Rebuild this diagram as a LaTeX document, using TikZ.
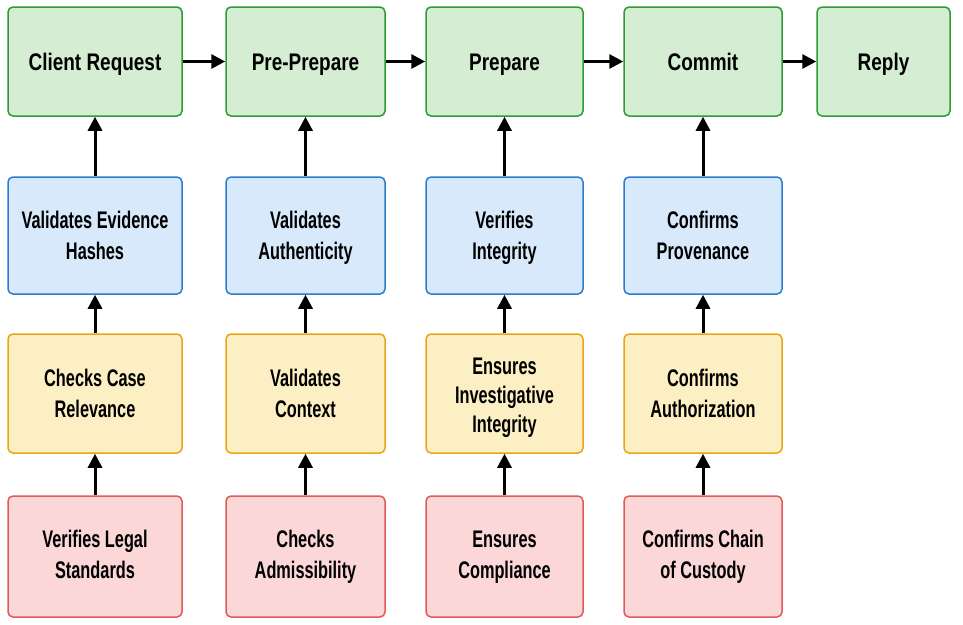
\documentclass[tikz,border=0pt]{standalone}
\usepackage{fontspec}
\setmainfont{Liberation Sans}
\newfontfamily\widefont{Liberation Sans}[FakeStretch=0.79]
\newfontfamily\narrowfont{Liberation Sans}[FakeStretch=0.68]
\usetikzlibrary{arrows.meta}
\setlength{\tabcolsep}{0pt}
\newcommand\bt[2][-2pt]{\raisebox{#1}[\height][\depth]{\begin{tabular}{c}#2\end{tabular}}}
\definecolor{gfill}{HTML}{D5EDD2}\definecolor{gdraw}{HTML}{2E9B35}
\definecolor{bfill}{HTML}{D7E9FA}\definecolor{bdraw}{HTML}{2C7DD2}
\definecolor{yfill}{HTML}{FDEFC4}\definecolor{ydraw}{HTML}{E9A418}
\definecolor{rfill}{HTML}{FBD7D7}\definecolor{rdraw}{HTML}{E05A5A}
\tikzset{
  x=1pt,y=-1pt,
  base/.style={rectangle,rounded corners=5pt,line width=1.5pt,inner sep=0pt},
  box/.style={base,font=\narrowfont\fontsize{24}{31}\selectfont\bfseries},
  gbox/.style={base,fill=gfill,draw=gdraw,font=\widefont\fontsize{24}{31}\selectfont\bfseries},
  bbox/.style={box,fill=bfill,draw=bdraw},
  ybox/.style={box,fill=yfill,draw=ydraw},
  rbox/.style={box,fill=rfill,draw=rdraw},
  conn/.style={line width=3pt,-{Triangle[length=14pt,width=14pt]}}
}
\begin{document}
\begin{tikzpicture}
\useasboundingbox (0,0) rectangle (963,624);
% row 1
\node[gbox,minimum width=174pt,minimum height=109pt] (cr) at (95,61.5) {\bt[-2.6pt]{Client Request}};
\node[gbox,minimum width=159pt,minimum height=109pt] (pp) at (305.5,61.5) {\bt[-2.6pt]{Pre-Prepare}};
\node[gbox,minimum width=157pt,minimum height=109pt] (pr) at (504.5,61.5) {\bt[-2.6pt]{Prepare}};
\node[gbox,minimum width=158pt,minimum height=109pt] (cm) at (703,61.5) {\bt[-2.6pt]{Commit}};
\node[gbox,minimum width=133pt,minimum height=109pt] (rp) at (883.5,61.5) {\bt[-2.6pt]{Reply}};
% row 2
\node[bbox,minimum width=174pt,minimum height=117pt] (b1) at (95,235.5) {\bt{Validates Evidence\\Hashes}};
\node[bbox,minimum width=159pt,minimum height=117pt] (b2) at (305.5,235.5) {\bt{Validates\\Authenticity}};
\node[bbox,minimum width=157pt,minimum height=117pt] (b3) at (504.5,235.5) {\bt{Verifies\\Integrity}};
\node[bbox,minimum width=158pt,minimum height=117pt] (b4) at (703,235.5) {\bt{Confirms\\Provenance}};
% row 3
\node[ybox,minimum width=174pt,minimum height=119pt] (y1) at (95,393.5) {\bt{Checks Case\\Relevance}};
\node[ybox,minimum width=159pt,minimum height=119pt] (y2) at (305.5,393.5) {\bt{Validates\\Context}};
\node[ybox,minimum width=157pt,minimum height=119pt,font=\narrowfont\fontsize{24}{29}\selectfont\bfseries] (y3) at (504.5,393.5) {\bt[-4.5pt]{Ensures\\Investigative\\Integrity}};
\node[ybox,minimum width=158pt,minimum height=119pt] (y4) at (703,393.5) {\bt{Confirms\\Authorization}};
% row 4
\node[rbox,minimum width=174pt,minimum height=121pt] (r1) at (95,556.5) {\bt[0pt]{Verifies Legal\\Standards}};
\node[rbox,minimum width=159pt,minimum height=121pt] (r2) at (305.5,556.5) {\bt[0pt]{Checks\\Admissibility}};
\node[rbox,minimum width=157pt,minimum height=121pt] (r3) at (504.5,556.5) {\bt[0pt]{Ensures\\Compliance}};
\node[rbox,minimum width=158pt,minimum height=121pt] (r4) at (703,556.5) {\bt[0pt]{Confirms Chain\\of Custody}};
% horizontal arrows
\draw[conn] (cr) -- (pp);
\draw[conn] (pp) -- (pr);
\draw[conn] (pr) -- (cm);
\draw[conn] (cm) -- (rp);
% vertical arrows
\foreach \a/\b in {b1/cr,b2/pp,b3/pr,b4/cm,y1/b1,y2/b2,y3/b3,y4/b4,r1/y1,r2/y2,r3/y3,r4/y4}
  \draw[conn] (\a) -- (\b);
\end{tikzpicture}
\end{document}
